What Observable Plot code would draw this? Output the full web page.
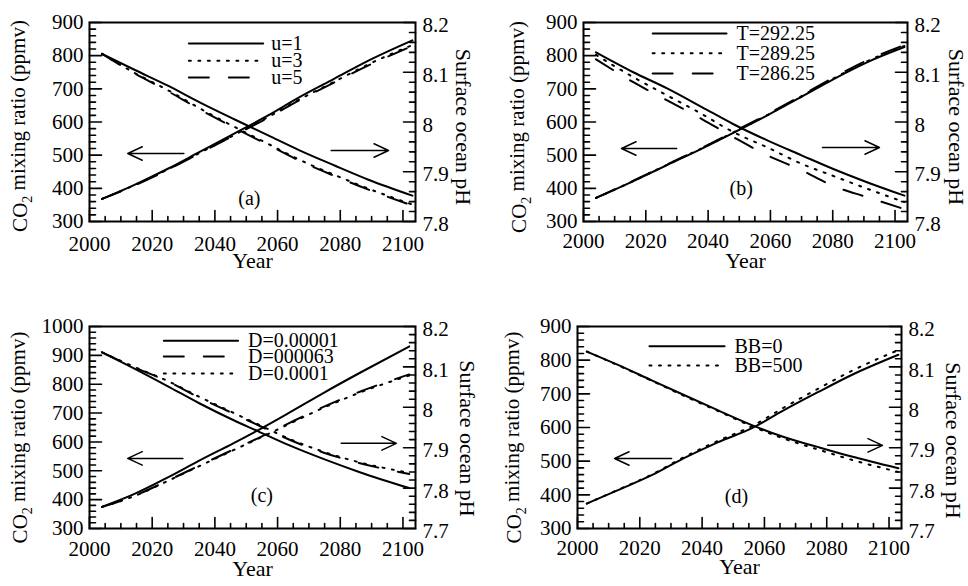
<!DOCTYPE html>
<html><head><meta charset="utf-8">
<script src="https://cdn.jsdelivr.net/npm/d3@7"></script>
<script src="https://cdn.jsdelivr.net/npm/@observablehq/plot@0.6"></script>
<style>
body{margin:0;background:#fff}
#wrap{position:relative;width:968px;height:586px;overflow:hidden;background:#fff}
.panel{position:absolute}
</style></head><body><div id="wrap"></div>
<script>
// ---------- data ----------
const yearTicks = [2000, 2020, 2040, 2060, 2080, 2100];

// (a) wind speed u
const yearsA = [2004, 2014, 2025, 2035, 2046, 2057, 2067, 2078, 2089, 2103];
const co2A_u1 = [368, 409, 459, 509, 564, 620, 675, 730, 785, 846];
const co2A_u3 = [368, 408, 457, 506, 560, 615, 668, 721, 774, 832];
const co2A_u5 = [368, 407, 456, 505, 559, 613, 666, 719, 771, 829];
const phA_u1 = [8.137, 8.106, 8.073, 8.040, 8.006, 7.973, 7.943, 7.913, 7.884, 7.852];
const phA_u3 = [8.137, 8.100, 8.064, 8.028, 7.991, 7.956, 7.924, 7.894, 7.866, 7.834];
const phA_u5 = [8.137, 8.099, 8.062, 8.026, 7.989, 7.954, 7.922, 7.892, 7.864, 7.832];
const labelsA = ["u=1", "u=3", "u=5"];

// (b) temperature T
const yearsB = [2004, 2016, 2027, 2038, 2048, 2059, 2070, 2080, 2091, 2103];
const co2B_T292 = [371, 422, 471, 520, 567, 620, 676, 728, 780, 826];
const co2B_T289 = [371, 422, 472, 521, 568, 621, 678, 730, 783, 829];
const co2B_T286 = [371, 423, 473, 522, 570, 623, 680, 733, 786, 832];
const phB_T292 = [8.140, 8.100, 8.067, 8.030, 7.996, 7.963, 7.933, 7.906, 7.879, 7.852];
const phB_T289 = [8.135, 8.090, 8.053, 8.016, 7.980, 7.949, 7.916, 7.892, 7.866, 7.839];
const phB_T286 = [8.126, 8.080, 8.043, 8.006, 7.970, 7.933, 7.903, 7.872, 7.849, 7.825];
const labelsB = ["T=292.25", "T=289.25", "T=286.25"];

// (c) diffusion D
const yearsC = [2004, 2014, 2025, 2035, 2046, 2054, 2064, 2075, 2086, 2102];
const co2C_D1 = [375, 418, 477, 535, 596, 642, 703, 772, 838, 931];
const co2C_D63 = [375, 412, 466, 518, 574, 614, 667, 723, 773, 834];
const co2C_D100 = [375, 411, 465, 516, 572, 612, 664, 720, 770, 830];
const phC_D1 = [8.136, 8.097, 8.052, 8.010, 7.968, 7.940, 7.905, 7.871, 7.840, 7.800];
const phC_D63 = [8.136, 8.100, 8.064, 8.024, 7.984, 7.955, 7.919, 7.887, 7.862, 7.835];
const phC_D100 = [8.136, 8.101, 8.065, 8.026, 7.986, 7.957, 7.921, 7.889, 7.864, 7.838];
const labelsC = ["D=0.00001", "D=000063", "D=0.0001"];

// (d) biological BB
const yearsD = [2003, 2013, 2024, 2034, 2045, 2056, 2066, 2077, 2088, 2103];
const co2D_BB0 = [374, 414, 459, 508, 556, 598, 650, 704, 756, 816];
const co2D_BB500 = [374, 415, 461, 511, 560, 604, 658, 714, 768, 830];
const phD_BB0 = [8.138, 8.105, 8.066, 8.031, 7.993, 7.956, 7.927, 7.902, 7.878, 7.849];
const phD_BB500 = [8.138, 8.104, 8.065, 8.029, 7.991, 7.953, 7.923, 7.896, 7.870, 7.840];
const labelsD = ["BB=0", "BB=500"];

// ---------- styles & layout ----------
const DASH = {solid: null, dotted: "2,7.5", dashed: "20,20"};
const FONT = "'Liberation Serif', 'Times New Roman', Times, serif";
const X_DOMAIN = [2000, 2104];
const W = 484, H = 293;

const panels = [
  {left: 0, top: 0, mL: 89, mR: 69, mT: 22, mB: 72, co2: [300, 900], ph: [7.8, 8.2],
   years: yearsA, labels: labelsA, tag: "(a)",
   series: [[co2A_u1, phA_u1, "solid"], [co2A_u3, phA_u3, "dotted"], [co2A_u5, phA_u5, "dashed"]],
   legend: {x1: 2031.7, x2: 2055.4, xt: 2058, ys: [837, 785, 734]},
   arrows: [[2030.1, 2012.2, 505], [2077.1, 2095.4, 514]], tagPos: [2051, 370],
   xPad: 15, yearDy: 46, ltDx: -69, ltDy: 4, rtDx: 48, rtDy: 5},
  {left: 484, top: 0, mL: 99, mR: 61, mT: 22, mB: 72, co2: [300, 900], ph: [7.8, 8.2],
   years: yearsB, labels: labelsB, tag: "(b)",
   series: [[co2B_T292, phB_T292, "solid"], [co2B_T289, phB_T289, "dotted"], [co2B_T286, phB_T286, "dashed"]],
   legend: {x1: 2022.2, x2: 2045.9, xt: 2049.1, ys: [867, 807, 746]},
   arrows: [[2029.9, 2012.2, 520], [2076.7, 2095, 523]], tagPos: [2050.6, 400],
   xPad: 12, yearDy: 46, ltDx: -64, ltDy: 5, rtDx: 49, rtDy: 5},
  {left: 0, top: 293, mL: 89, mR: 69, mT: 33, mB: 58, co2: [300, 1000], ph: [7.7, 8.2],
   years: yearsC, labels: labelsC, tag: "(c)",
   series: [[co2C_D1, phC_D1, "solid"], [co2C_D63, phC_D63, "dashed"], [co2C_D100, phC_D100, "dotted"]],
   legend: {x1: 2023.7, x2: 2047.4, xt: 2050.6, ys: [951, 896, 837]},
   arrows: [[2029.8, 2012.2, 543], [2080.3, 2097.9, 595]], tagPos: [2055, 414],
   xPad: 13, yearDy: 47, ltDx: -69, ltDy: 10, rtDx: 52, rtDy: 11},
  {left: 484, top: 293, mL: 93, mR: 67, mT: 33, mB: 58, co2: [300, 900], ph: [7.7, 8.2],
   years: yearsD, labels: labelsD, tag: "(d)",
   series: [[co2D_BB0, phD_BB0, "solid"], [co2D_BB500, phD_BB500, "dotted"]],
   legend: {x1: 2023.1, x2: 2047.2, xt: 2050.4, ys: [841, 784]},
   arrows: [[2030.2, 2011.9, 508], [2080.3, 2097.9, 547]], tagPos: [2051, 395],
   xPad: 12, yearDy: 45, ltDx: -63, ltDy: 10, rtDx: 52, rtDy: 13}
];

const wrap = document.getElementById("wrap");
const fmtP = v => String(Math.round(v * 10) / 10);
const fmtInt = d3.format("d");

for (const p of panels) {
  const [c0, c1] = p.co2, [p0, p1] = p.ph;
  const toLeft = v => c0 + (v - p0) / (p1 - p0) * (c1 - c0);
  const fromLeft = v => p0 + (v - c0) / (c1 - c0) * (p1 - p0);
  const co2Major = d3.range(c0, c1 + 1, 100);
  const co2Minor = d3.range(c0 + 20, c1, 20).filter(v => v % 100 !== 0);
  const phMajor = d3.range(0, Math.round((p1 - p0) / 0.1) + 1).map(i => p0 + i * 0.1);
  const phMinor = d3.range(1, Math.round((p1 - p0) / 0.02)).filter(i => i % 5 !== 0).map(i => p0 + i * 0.02);
  const yearMinor = d3.range(2005, 2105, 5).filter(v => v % 20 !== 0);
  const innerW = W - p.mL - p.mR, innerH = H - p.mT - p.mB;
  const ky = (c1 - c0) / innerH;                      // data units per pixel (y)
  const kx = (X_DOMAIN[1] - X_DOMAIN[0]) / innerW;    // data units per pixel (x)
  const xL = X_DOMAIN[0], xR = X_DOMAIN[1];

  // inward tick segments as two-point line series, in data units
  const tickRows = [];
  let id = 0;
  const addSeg = (x1, y1, x2, y2) => { tickRows.push({x: x1, y: y1, id}, {x: x2, y: y2, id}); id++; };
  yearTicks.forEach(v => addSeg(v, c0, v, c0 + 11 * ky));
  yearMinor.forEach(v => addSeg(v, c0, v, c0 + 5 * ky));
  co2Major.forEach(v => addSeg(xL, v, xL + 12 * kx, v));
  co2Minor.forEach(v => addSeg(xL, v, xL + 6 * kx, v));
  phMajor.map(toLeft).forEach(v => addSeg(xR - 12 * kx, v, xR, v));
  phMinor.map(toLeft).forEach(v => addSeg(xR - 6 * kx, v, xR, v));

  const marks = [];
  marks.push(Plot.line(tickRows, {x: "x", y: "y", z: "id", stroke: "black", strokeWidth: 1.6}));
  // data lines
  for (const [co2, ph, style] of p.series) {
    marks.push(Plot.line(p.years.map((yr, i) => ({x: yr, y: co2[i]})),
      {x: "x", y: "y", stroke: "black", strokeWidth: 2, strokeDasharray: DASH[style], curve: "monotone-x"}));
    marks.push(Plot.line(p.years.map((yr, i) => ({x: yr, y: toLeft(ph[i])})),
      {x: "x", y: "y", stroke: "black", strokeWidth: 2, strokeDasharray: DASH[style], curve: "monotone-x"}));
  }
  // legend
  p.series.forEach(([, , style], i) => {
    const yv = p.legend.ys[i];
    marks.push(Plot.line([{x: p.legend.x1, y: yv}, {x: p.legend.x2, y: yv}],
      {x: "x", y: "y", stroke: "black", strokeWidth: 2, strokeDasharray: DASH[style]}));
    marks.push(Plot.text([{x: p.legend.xt, y: yv, t: p.labels[i]}],
      {x: "x", y: "y", text: "t", textAnchor: "start", fontSize: 20}));
  });
  // arrows
  marks.push(Plot.arrow(p.arrows.map(([a, b, y]) => ({a, b, y})),
    {x1: "a", x2: "b", y1: "y", y2: "y", stroke: "black", strokeWidth: 1.5, headLength: 16, headAngle: 50}));
  // tag
  marks.push(Plot.text([{x: p.tagPos[0], y: p.tagPos[1], t: p.tag}], {x: "x", y: "y", text: "t", fontSize: 20}));
  // frame
  marks.push(Plot.frame({stroke: "black", strokeWidth: 2}));
  // axis labels
  marks.push(Plot.axisX(yearTicks, {anchor: "bottom", tickSize: 0, tickPadding: p.xPad, fontSize: 21, tickFormat: fmtInt, label: null}));
  marks.push(Plot.axisY(co2Major, {anchor: "left", tickSize: 0, tickPadding: 6, fontSize: 21, tickFormat: fmtInt, label: null}));
  marks.push(Plot.axisY(phMajor.map(toLeft), {anchor: "right", tickSize: 0, tickPadding: 7, dy: 3, fontSize: 21,
    tickFormat: v => fmtP(fromLeft(v)), label: null}));
  // titles
  marks.push(Plot.text(["Year"], {text: d => d, frameAnchor: "bottom", textAnchor: "middle", dy: p.yearDy, fontSize: 22}));
  marks.push(Plot.text(["CO2 mixing ratio (ppmv)"], {text: d => d, frameAnchor: "left", textAnchor: "middle",
    dx: p.ltDx, dy: p.ltDy, rotate: -90, fontSize: 21}));
  marks.push(Plot.text(["Surface ocean pH"], {text: d => d, frameAnchor: "right", textAnchor: "middle",
    dx: p.rtDx, dy: p.rtDy, rotate: 90, fontSize: 22}));

  const svg = Plot.plot({
    width: W, height: H,
    marginLeft: p.mL, marginRight: p.mR, marginTop: p.mT, marginBottom: p.mB,
    x: {domain: X_DOMAIN},
    y: {domain: p.co2},
    style: {fontFamily: FONT, fontSize: "20px", background: "white", color: "black", overflow: "visible"},
    marks
  });
  // subscript in CO2
  d3.select(svg).selectAll("text").filter(function () { return this.textContent === "CO2 mixing ratio (ppmv)"; })
    .each(function () {
      const t = d3.select(this);
      t.text(null);
      t.append("tspan").text("CO");
      t.append("tspan").attr("font-size", 14).attr("dy", "0.35em").text("2");
      t.append("tspan").attr("dy", "-0.35em").text(" mixing ratio (ppmv)");
    });
  const div = document.createElement("div");
  div.className = "panel";
  div.style.left = p.left + "px";
  div.style.top = p.top + "px";
  div.appendChild(svg);
  wrap.appendChild(div);
}
</script>
</body></html>
